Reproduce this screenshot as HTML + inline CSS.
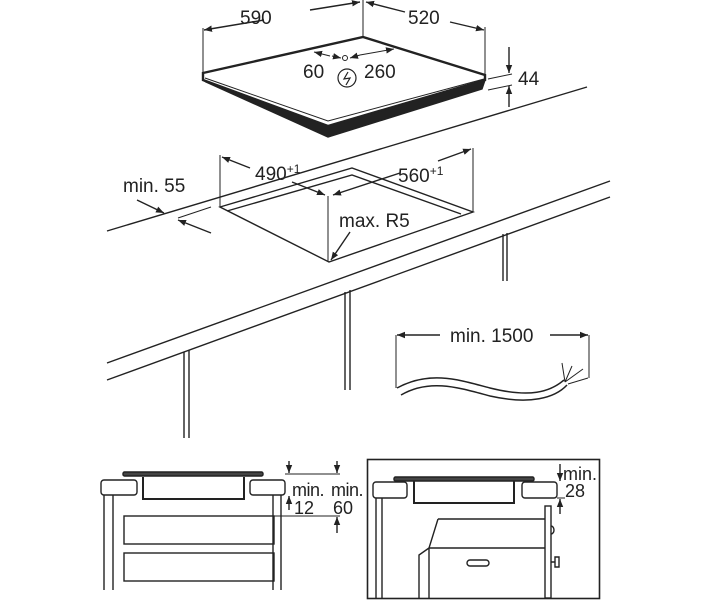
<!DOCTYPE html>
<html><head><style>
html,body{margin:0;padding:0;background:#fff;}
svg{display:block;}
text{font-family:"Liberation Sans",sans-serif;fill:#222;}
</style></head><body>
<svg width="710" height="600" viewBox="0 0 710 600" xmlns="http://www.w3.org/2000/svg">
<defs>
<marker id="a" viewBox="0 0 10 10" refX="10" refY="5" markerWidth="8" markerHeight="8" orient="auto-start-reverse" markerUnits="userSpaceOnUse"><path d="M0,1 L10,5 L0,9 z" fill="#222"/></marker>
</defs>
<g stroke="#222" fill="none" stroke-width="1.4">
<!-- hob -->
<path d="M206,82 L328,137 L482,89 L485,80 L328,124 L203,80 Z" fill="#222"/>
<path d="M203,73 L363,37 L485,75 L485,80 L328,126 L203,80 Z" fill="#fff" stroke-width="2.4"/>
<path d="M205,78 L328,121 L484,79" stroke-width="1"/>
<!-- dims top -->
<line x1="203" y1="73" x2="203" y2="28" stroke-width="1"/>
<line x1="363" y1="37" x2="363" y2="0" stroke-width="1"/>
<line x1="485" y1="75" x2="485" y2="27" stroke-width="1"/>
<line x1="264" y1="20" x2="204" y2="30" marker-end="url(#a)"/>
<line x1="310" y1="10" x2="360" y2="2" marker-end="url(#a)"/>
<line x1="405" y1="12" x2="366" y2="2" marker-end="url(#a)"/>
<line x1="450" y1="22" x2="484" y2="30" marker-end="url(#a)"/>
<line x1="488" y1="79" x2="512" y2="74" stroke-width="1"/>
<line x1="488" y1="90" x2="512" y2="85" stroke-width="1"/>
<line x1="509" y1="47" x2="509" y2="73" marker-end="url(#a)"/>
<line x1="509" y1="107" x2="509" y2="86" marker-end="url(#a)"/>
<line x1="330" y1="56" x2="314" y2="52" marker-end="url(#a)" stroke-width="1"/>
<line x1="332" y1="56" x2="341" y2="58" marker-end="url(#a)" stroke-width="1"/>
<line x1="360" y1="55" x2="350" y2="58" marker-end="url(#a)" stroke-width="1"/>
<line x1="360" y1="55" x2="394" y2="49" marker-end="url(#a)" stroke-width="1"/>
<circle cx="345" cy="58" r="2.5" stroke-width="1"/>
<circle cx="347" cy="78" r="9" stroke-width="1.2"/>
<path d="M348,72 L344,79 L350,78 L346,85" stroke-width="1.2"/>
<!-- countertop -->
<line x1="107" y1="231" x2="587" y2="87"/>
<line x1="107" y1="363" x2="610" y2="181"/>
<line x1="107" y1="380" x2="610" y2="197"/>
<!-- cutout -->
<path d="M220,207 L352,168 L473,212 L329,262 Z" fill="#fff"/>
<path d="M227,211 L352,175 L461,214"/>
<line x1="220" y1="155" x2="220" y2="207" stroke-width="1"/>
<line x1="473" y1="148" x2="473" y2="212" stroke-width="1"/>
<line x1="328" y1="196" x2="328" y2="262" stroke-width="1"/>
<line x1="178" y1="218" x2="211" y2="207" stroke-width="1"/>
<line x1="250" y1="168" x2="222" y2="157" marker-end="url(#a)"/>
<line x1="292" y1="182" x2="325" y2="195" marker-end="url(#a)"/>
<line x1="400" y1="173" x2="333" y2="195" marker-end="url(#a)"/>
<line x1="438" y1="161" x2="471" y2="149" marker-end="url(#a)"/>
<line x1="137" y1="200" x2="164" y2="213" marker-end="url(#a)"/>
<line x1="211" y1="233" x2="178" y2="220" marker-end="url(#a)"/>
<line x1="350" y1="232" x2="331" y2="260" marker-end="url(#a)"/>
<!-- legs -->
<path d="M184,352 V438 M189,350 V438 M345,292 V390 M350,290 V390 M503,234 V281 M507,233 V281"/>
<!-- cable -->
<path d="M396,388 V335 M589,378 V335" stroke-width="1"/>
<line x1="440" y1="335" x2="397" y2="335" marker-end="url(#a)"/>
<line x1="550" y1="335" x2="588" y2="335" marker-end="url(#a)"/>
<path d="M397,388 C430,370 460,380 490,388 C530,398 550,392 564,380" stroke-width="1.5"/>
<path d="M401,395 C430,378 460,388 490,396 C530,405 555,398 567,385" stroke-width="1.5"/>
<path d="M565,382 L562,363 M565,382 L572,366 M565,382 L583,369 M568,384 L588,378" stroke-width="1"/>
<!-- bottom left -->
<rect x="123" y="472" width="140" height="4" rx="1.5" fill="#444" stroke="#222"/>
<rect x="101" y="480" width="36" height="15" rx="3"/>
<rect x="250" y="480" width="35" height="15" rx="3"/>
<path d="M143,477 V499 H244 V477" stroke-width="2"/>
<path d="M104,495 V590 M113,495 V590 M273,495 V590 M281,495 V590"/>
<rect x="124" y="516" width="150" height="28"/>
<rect x="124" y="553" width="150" height="28"/>
<line x1="285" y1="474" x2="340" y2="474" stroke-width="1"/>
<line x1="274" y1="516" x2="340" y2="516" stroke-width="1"/>
<line x1="289" y1="461" x2="289" y2="473" marker-end="url(#a)"/>
<line x1="289" y1="510" x2="289" y2="496" marker-end="url(#a)"/>
<line x1="337" y1="461" x2="337" y2="473" marker-end="url(#a)"/>
<line x1="337" y1="533" x2="337" y2="517" marker-end="url(#a)"/>
<!-- bottom right -->
<rect x="367.5" y="459.5" width="232" height="139" stroke-width="1.6"/>
<rect x="394" y="477" width="140" height="4" rx="1.5" fill="#444" stroke="#222"/>
<rect x="373" y="482" width="34" height="16" rx="3"/>
<rect x="522" y="482" width="35" height="16" rx="3"/>
<path d="M414,481 V503 H514 V481" stroke-width="2"/>
<path d="M376,498 V598 M382,498 V598"/>
<path d="M438,519 H545 M438,519 L429,548 H545 M429,548 L419,555 V598 M429,548 V598"/>
<rect x="545" y="506" width="6" height="92"/>
<path d="M551,526 a3,4 0 0 1 0,8"/>
<path d="M551,562 H555 M555,557 h4 v10 h-4 z"/>
<rect x="467" y="560" width="22" height="6" rx="3"/>
<line x1="557" y1="498" x2="565" y2="498" stroke-width="1"/>
<line x1="560" y1="464" x2="560" y2="481" marker-end="url(#a)"/>
<line x1="560" y1="514" x2="560" y2="499" marker-end="url(#a)"/>
</g>
<g font-size="19">
<text x="240" y="24">590</text>
<text x="408" y="24">520</text>
<text x="518" y="85">44</text>
<text x="303" y="78">60</text>
<text x="364" y="78">260</text>
<text x="255" y="180">490<tspan font-size="12" dy="-7">+1</tspan></text>
<text x="398" y="182">560<tspan font-size="12" dy="-7">+1</tspan></text>
<text x="123" y="192">min. 55</text>
<text x="339" y="227">max. R5</text>
<text x="450" y="342">min. 1500</text>
</g>
<g font-size="18">
<text x="292" y="496" letter-spacing="-0.5">min.</text>
<text x="331" y="496" letter-spacing="-0.5">min.</text>
<text x="294" y="514">12</text>
<text x="333" y="514">60</text>
<text x="563" y="480">min.</text>
<text x="565" y="497">28</text>
</g>
</svg>
</body></html>
